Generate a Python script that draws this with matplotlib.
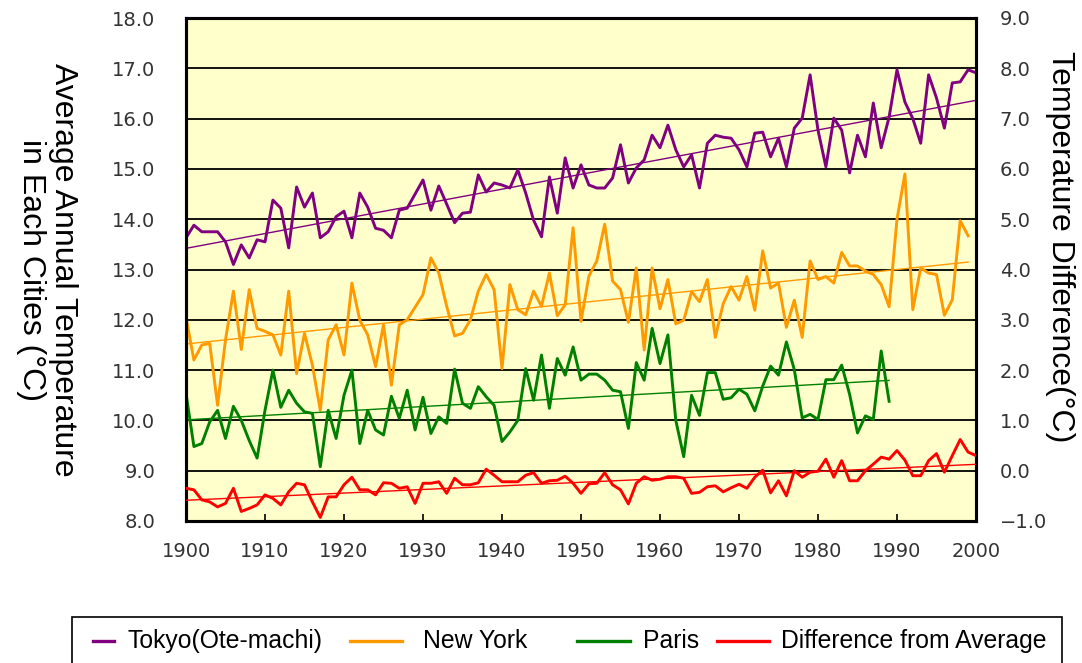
import numpy as np
import matplotlib
matplotlib.use('Agg')
import matplotlib.pyplot as plt
from matplotlib.lines import Line2D
from matplotlib.patches import Rectangle

# annual mean temperatures
years_tokyo = np.arange(1900, 2001)
tokyo = [13.63, 13.88, 13.75, 13.75, 13.75, 13.55, 13.10, 13.49, 13.23, 13.59,
         13.55, 14.38, 14.22, 13.43, 14.64, 14.24, 14.52, 13.63, 13.75, 14.05,
         14.16, 13.63, 14.52, 14.24, 13.82, 13.78, 13.63, 14.18, 14.22, 14.50,
         14.78, 14.18, 14.66, 14.30, 13.93, 14.12, 14.14, 14.88, 14.54, 14.72,
         14.68, 14.62, 14.98, 14.52, 13.98, 13.65, 14.84, 14.12, 15.22, 14.62,
         15.08, 14.68, 14.62, 14.62, 14.82, 15.48, 14.72, 15.02, 15.18, 15.67,
         15.42, 15.87, 15.38, 15.04, 15.28, 14.62, 15.51, 15.67, 15.63, 15.61,
         15.38, 15.04, 15.71, 15.73, 15.24, 15.61, 15.04, 15.81, 16.01, 16.87,
         15.77, 15.04, 16.01, 15.77, 14.92, 15.67, 15.24, 16.31, 15.42, 16.03,
         16.97, 16.33, 16.00, 15.51, 16.87, 16.41, 15.81, 16.71, 16.73, 16.97,
         16.91]

years_ny = np.arange(1900, 2000)
new_york = [12.05, 11.20, 11.50, 11.53, 10.30, 11.60, 12.57, 11.41, 12.60, 11.83,
            11.77, 11.70, 11.30, 12.57, 10.93, 11.73, 11.10, 10.20, 11.60, 11.90,
            11.30, 12.73, 11.99, 11.70, 11.07, 11.90, 10.70, 11.90, 12.00, 12.25,
            12.50, 13.23, 12.93, 12.27, 11.68, 11.73, 12.00, 12.57, 12.90, 12.60,
            11.03, 12.70, 12.20, 12.10, 12.57, 12.27, 12.93, 12.08, 12.30, 13.83,
            11.97, 12.87, 13.17, 13.90, 12.77, 12.60, 11.95, 13.03, 11.40, 13.03,
            12.22, 12.80, 11.92, 11.99, 12.56, 12.36, 12.80, 11.65, 12.32, 12.66,
            12.39, 12.86, 12.19, 13.37, 12.63, 12.73, 11.85, 12.39, 11.65, 13.17,
            12.80, 12.86, 12.73, 13.34, 13.07, 13.07, 12.97, 12.90, 12.70, 12.26,
            14.00, 14.90, 12.20, 13.03, 12.93, 12.90, 12.09, 12.40, 13.97, 13.67]

years_paris = np.arange(1900, 1990)
paris = [10.54, 9.48, 9.54, 9.97, 10.20, 9.64, 10.28, 10.00, 9.60, 9.25,
         10.20, 11.00, 10.26, 10.60, 10.34, 10.17, 10.14, 9.08, 10.20, 9.64,
         10.50, 11.00, 9.54, 10.20, 9.81, 9.71, 10.48, 10.04, 10.60, 9.81,
         10.46, 9.74, 10.07, 9.94, 11.02, 10.34, 10.24, 10.67, 10.47, 10.30,
         9.58, 9.77, 10.00, 11.03, 10.40, 11.30, 10.24, 11.23, 10.90, 11.46,
         10.80, 10.92, 10.92, 10.80, 10.60, 10.57, 9.84, 11.15, 10.80, 11.83,
         11.13, 11.70, 10.00, 9.28, 10.50, 10.10, 10.95, 10.95, 10.42, 10.45,
         10.62, 10.52, 10.19, 10.68, 11.08, 10.90, 11.56, 11.01, 10.05, 10.12,
         10.02, 10.81, 10.81, 11.10, 10.52, 9.75, 10.09, 10.02, 11.38, 10.38]

years_diff = np.arange(1900, 2001)
difference = [-0.35, -0.38, -0.58, -0.62, -0.72, -0.65, -0.35, -0.81, -0.75, -0.68,
              -0.48, -0.55, -0.68, -0.42, -0.25, -0.28, -0.62, -0.93, -0.52, -0.52,
              -0.28, -0.13, -0.38, -0.38, -0.48, -0.24, -0.25, -0.35, -0.32, -0.65,
              -0.25, -0.25, -0.22, -0.45, -0.15, -0.28, -0.28, -0.24, 0.03, -0.09,
              -0.22, -0.22, -0.22, -0.09, -0.04, -0.25, -0.20, -0.19, -0.11, -0.25,
              -0.45, -0.26, -0.25, -0.04, -0.28, -0.38, -0.66, -0.25, -0.12, -0.19,
              -0.17, -0.12, -0.12, -0.15, -0.45, -0.43, -0.32, -0.30, -0.42, -0.34,
              -0.27, -0.35, -0.13, 0.01, -0.44, -0.20, -0.50, 0.00, -0.13, -0.03,
              -0.01, 0.23, -0.13, 0.20, -0.20, -0.20, 0.00, 0.13, 0.27, 0.23,
              0.40, 0.21, -0.10, -0.10, 0.20, 0.34, -0.03, 0.30, 0.62, 0.37,
              0.30]

legend_names = ['Tokyo(Ote-machi)', 'New York', 'Paris', 'Difference from Average']
colors = ['#800080', '#FF9900', '#008000', '#FF0000']

fig = plt.figure(figsize=(10.82, 6.63), dpi=100)
ax = fig.add_axes([186 / 1082, 1 - 521 / 663, 790 / 1082, 503 / 663])
ax.set_facecolor('#FFFFCC')
ax2 = ax.twinx()


def trend(a, x, y, c):
    k, b = np.polyfit(x, y, 1)
    a.plot(x, k * np.asarray(x) + b, color=c, lw=1.0, zorder=3)


for x, y, c in [(years_tokyo, tokyo, colors[0]),
                (years_ny, new_york, colors[1]),
                (years_paris, paris, colors[2])]:
    ax.plot(x, y, color=c, lw=2.1, zorder=3)
    trend(ax, x, y, c)
ax2.plot(years_diff, difference, color=colors[3], lw=2.1, zorder=3)
trend(ax2, years_diff, difference, colors[3])

ax.set_xlim(1900, 2000)
ax.set_ylim(8, 18)
ax2.set_ylim(-1, 9)
ax.set_xticks(range(1900, 2001, 10))
lt = np.arange(8, 18.5, 1.0)
ax.set_yticks(lt)
ax.set_yticklabels([f'{v:.1f}' for v in lt])
rt = np.arange(-1, 9.5, 1.0)
ax2.set_yticks(rt)
ax2.set_yticklabels([f'{v:.1f}'.replace('-', '\u2212') for v in rt])
ax.grid(axis='y', color='black', lw=1.3)
ax.set_axisbelow(True)

tick_font = dict(labelsize=14, labelcolor='#333333')
ax.tick_params(axis='x', direction='in', length=5, width=1.2, pad=15, **tick_font)
ax.tick_params(axis='y', length=0, pad=22, **tick_font)
ax2.tick_params(axis='y', length=0, pad=17, **tick_font)
for a in (ax, ax2):
    for s in a.spines.values():
        s.set_linewidth(2.2)
        s.set_color('black')

fig.text(47 / 1082, 1 - 270 / 663, 'Average Annual Temperature\nin Each Cities (°C)',
         rotation=-90, ha='center', va='center', multialignment='center',
         fontsize=23, family='Liberation Sans', linespacing=1.05)
fig.text(1060 / 1082, 1 - 247 / 663, 'Temperature Difference(°C)',
         rotation=-90, ha='center', va='center', fontsize=23, family='Liberation Sans')

# legend box, bottom edge runs off the figure
fig.add_artist(Rectangle((72 / 1082, -0.02), 990 / 1082, (663 - 617) / 663 + 0.02,
                         transform=fig.transFigure, facecolor='white',
                         edgecolor='black', lw=1.2))
ly = 1 - 641 / 663
handles = [(93, 114, 127), (350, 402, 423), (577, 630, 643), (717, 769, 781)]
for (x0, x1, xt), name, c in zip(handles, legend_names, colors):
    fig.add_artist(Line2D([x0 / 1082, x1 / 1082], [ly, ly], transform=fig.transFigure,
                          color=c, lw=2.4))
    fig.text(xt / 1082, ly, name, ha='left', va='center', fontsize=17.8,
             family='Liberation Sans')

fig.savefig('out.png', dpi=100)
